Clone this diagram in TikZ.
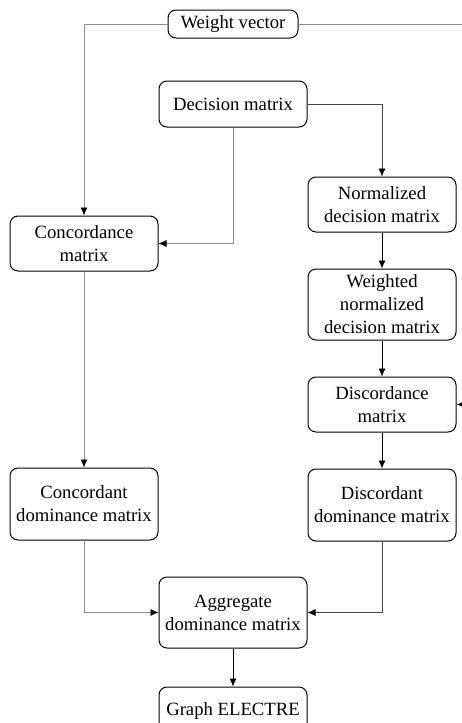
\documentclass[tikz,border=0pt]{standalone}
\usepackage{fontspec}
\setmainfont{Liberation Serif}
\usepackage{tikz}
\usetikzlibrary{arrows.meta, positioning}
\definecolor{electregray}{HTML}{8C8C8C}
\definecolor{electredark}{HTML}{454545}

\begin{document}
\begin{tikzpicture}[
    node distance=36pt and 0pt,
    box/.style={draw,rounded corners=8pt,line width=1pt,minimum width=148pt,minimum height=55pt,align=center,inner sep=3pt,font=\fontsize{18.7}{23}\selectfont},
    flow/.style={-{Latex[length=8pt,width=7pt,color=black]},line width=0.8pt},
  ]
    \useasboundingbox (0,0) rectangle (462pt,-723pt);
    \node[box, minimum width=130pt, minimum height=28pt] (wv) at (233pt,-24pt) {Weight vector};
    \node[box, below=42pt of wv, minimum height=46pt] (dm) {Decision matrix};
    \node[box, below left=88pt and 0pt of dm.south west] (cm) {Concordance\\matrix};
    \node[box, below right=49pt and 0pt of dm.south east] (ndm) {Normalized\\decision matrix};
    \node[box, below=of ndm, minimum height=71pt] (wndm) {Weighted\\normalized\\decision matrix};
    \node[box, below=of wndm] (disc) {Discordance\\matrix};
    \node[box, below=of disc, minimum height=72pt] (ddm) {Discordant\\dominance matrix};
    \node[box, below=196pt of cm, minimum height=72pt] (cdm) {Concordant\\dominance matrix};
    \node[box, below right=36pt and 0pt of cdm.south east, minimum height=71pt] (adm) {Aggregate\\dominance matrix};
    \node[box, below=38pt of adm, minimum height=47pt] (ge) {Graph ELECTRE};
    \coordinate[right=20pt of disc.east] (wturn);

    \draw[flow,electregray] (wv) -| (cm);
    \draw[flow,electregray] (wv.east) -| (wturn) -- (disc.east);
    \draw[flow,electregray] (dm) |- (cm);
    \draw[flow,electredark] (dm) -| (ndm);
    \draw[flow] (ndm) -- (wndm);
    \draw[flow] (wndm) -- (disc);
    \draw[flow] (disc) -- (ddm);
    \draw[flow,electregray] (cm) -- (cdm);
    \draw[flow,electregray] (cdm) |- (adm);
    \draw[flow,electredark] (ddm) |- (adm);
    \draw[flow] (adm) -- (ge);
  \end{tikzpicture}
\end{document}
